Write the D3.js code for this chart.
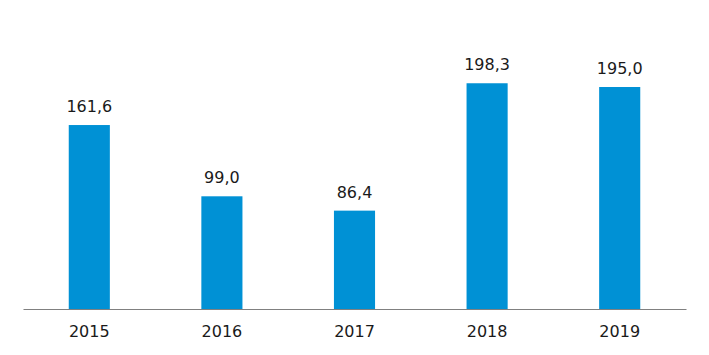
<!doctype html>
<html>
<head>
    <meta charset="utf-8">
    <title>Chart</title>
    <style>
        body { margin: 0; background: #fff; }
        text { font-family: "DejaVu Sans", Verdana, sans-serif; fill: #1a1a1a; }
    </style>
    <script src="https://d3js.org/d3.v7.min.js"></script>
</head>
<body>
    <svg width="709" height="355"></svg>
    <script>
        var years = ["2015", "2016", "2017", "2018", "2019"];
        var values = [161.6, 99.0, 86.4, 198.3, 195.0];

        var svg = d3.select("svg"),
            left = 23, right = 686, base = 309;

        var x = d3.scaleBand()
            .domain(years)
            .range([left, right])
            .paddingInner(0.69)
            .paddingOuter(0.345);

        var y = d3.scaleLinear()
            .domain([0, 250])
            .range([base, base - 284.6]);

        var data = years.map(function(yr, i) { return { year: yr, value: values[i] }; });

        svg.append("g")
            .selectAll("rect")
            .data(data)
            .enter().append("rect")
            .attr("x", function(d) { return x(d.year); })
            .attr("y", function(d) { return y(d.value); })
            .attr("width", x.bandwidth())
            .attr("height", function(d) { return base - y(d.value); })
            .attr("fill", "#0091d5");

        // value labels
        svg.append("g")
            .selectAll("text")
            .data(data)
            .enter().append("text")
            .attr("x", function(d) { return x(d.year) + x.bandwidth() / 2; })
            .attr("y", function(d) { return y(d.value) - 13; })
            .attr("text-anchor", "middle")
            .attr("font-size", 16)
            .text(function(d) { return d.value.toFixed(1).replace(".", ","); });

        var axis = svg.append("g")
            .attr("transform", "translate(0," + base + ")")
            .call(d3.axisBottom(x).tickSize(0).tickPadding(17));
        axis.select(".domain").attr("stroke", "#808080").attr("stroke-width", 1.2);
        axis.selectAll("text")
            .attr("font-size", 16)
            .attr("font-family", "DejaVu Sans, Verdana, sans-serif")
            .attr("fill", "#1a1a1a");
    </script>
</body>
</html>
